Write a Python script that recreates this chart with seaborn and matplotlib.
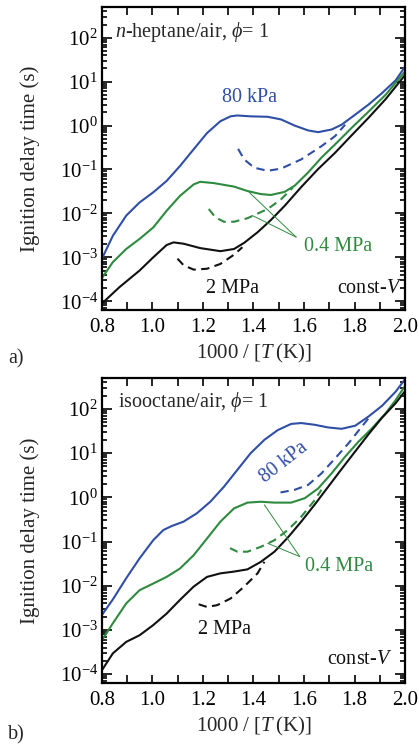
import numpy as np
import pandas as pd
import matplotlib
matplotlib.use("Agg")
import matplotlib.pyplot as plt
import seaborn as sns
from matplotlib.ticker import LogLocator, FixedLocator, NullFormatter, LogFormatterSciNotation

# ---------------- data (log10 of ignition delay time in s) ----------------
# panel a) n-heptane/air
a_blue_x = [0.800, 0.843, 0.896, 0.949, 1.003, 1.056, 1.109, 1.163, 1.216, 1.269, 1.309, 1.336, 1.389, 1.456,
            1.509, 1.563, 1.616, 1.656, 1.709, 1.749, 1.803, 1.856, 1.909, 1.963, 2.000]
a_blue_y = [-3.03, -2.51, -2.05, -1.75, -1.52, -1.26, -0.92, -0.54, -0.17, 0.10, 0.21, 0.23, 0.21, 0.20,
            0.14, 0.00, -0.11, -0.15, -0.09, 0.02, 0.25, 0.48, 0.74, 1.03, 1.34]
a_blue_dx = [1.339, 1.363, 1.403, 1.456, 1.509, 1.589, 1.669, 1.723, 1.763]
a_blue_dy = [-0.53, -0.77, -0.96, -1.03, -0.98, -0.77, -0.47, -0.24, 0.02]

a_green_x = [0.800, 0.843, 0.896, 0.949, 1.003, 1.056, 1.109, 1.163, 1.189, 1.243, 1.323, 1.376, 1.429, 1.469,
             1.523, 1.563, 1.616, 1.669, 1.723, 1.789, 1.856, 1.923, 2.000]
a_green_y = [-3.47, -3.11, -2.81, -2.58, -2.32, -1.94, -1.60, -1.34, -1.28, -1.31, -1.39, -1.49, -1.56, -1.58,
             -1.51, -1.37, -1.07, -0.73, -0.43, -0.05, 0.32, 0.70, 1.23]
a_green_dx = [1.223, 1.249, 1.283, 1.323, 1.376, 1.456, 1.509, 1.556]
a_green_dy = [-1.90, -2.09, -2.19, -2.19, -2.11, -1.90, -1.68, -1.41]

a_black_x = [0.800, 0.869, 0.949, 1.003, 1.056, 1.083, 1.123, 1.189, 1.269, 1.323, 1.363, 1.416, 1.469, 1.523,
             1.589, 1.656, 1.723, 1.789, 1.856, 1.923, 2.000]
a_black_y = [-4.05, -3.68, -3.30, -3.00, -2.72, -2.66, -2.69, -2.79, -2.86, -2.81, -2.67, -2.43, -2.15, -1.83,
             -1.40, -0.99, -0.62, -0.22, 0.18, 0.60, 1.15]
a_black_dx = [1.099, 1.123, 1.163, 1.216, 1.269, 1.323, 1.356]
a_black_dy = [-3.03, -3.18, -3.28, -3.26, -3.15, -2.94, -2.77]

# panel b) isooctane/air
b_blue_x = [0.800, 0.843, 0.896, 0.949, 1.003, 1.043, 1.076, 1.123, 1.176, 1.229, 1.283, 1.336, 1.389, 1.443,
            1.496, 1.549, 1.589, 1.643, 1.696, 1.749, 1.803, 1.856, 1.909, 1.963, 2.000]
b_blue_y = [-2.66, -2.31, -1.83, -1.38, -0.97, -0.74, -0.65, -0.55, -0.36, -0.10, 0.24, 0.62, 1.00, 1.30,
            1.52, 1.66, 1.68, 1.64, 1.58, 1.55, 1.62, 1.83, 2.07, 2.39, 2.67]
b_blue_dx = [1.507, 1.563, 1.616, 1.669, 1.723, 1.776, 1.829, 1.863]
b_blue_dy = [0.11, 0.17, 0.28, 0.54, 0.88, 1.22, 1.60, 1.84]

b_green_x = [0.800, 0.843, 0.896, 0.949, 1.003, 1.056, 1.109, 1.163, 1.216, 1.269, 1.323, 1.376, 1.429, 1.483,
             1.549, 1.603, 1.656, 1.709, 1.763, 1.816, 1.869, 1.923, 1.963, 2.000]
b_green_y = [-3.23, -2.85, -2.40, -2.10, -1.95, -1.80, -1.61, -1.31, -0.93, -0.55, -0.25, -0.12, -0.10, -0.12,
             -0.12, -0.02, 0.20, 0.54, 0.92, 1.26, 1.56, 1.90, 2.20, 2.52]
b_green_dx = [1.307, 1.336, 1.376, 1.429, 1.483, 1.536, 1.589, 1.643, 1.669]
b_green_dy = [-1.15, -1.23, -1.23, -1.12, -0.97, -0.74, -0.44, -0.06, 0.17]

b_black_x = [0.800, 0.843, 0.896, 0.949, 1.003, 1.056, 1.109, 1.163, 1.216, 1.269, 1.323, 1.376, 1.429, 1.483,
             1.536, 1.589, 1.643, 1.696, 1.749, 1.803, 1.856, 1.909, 1.963, 2.000]
b_black_y = [-3.91, -3.53, -3.27, -3.12, -2.89, -2.63, -2.32, -2.02, -1.80, -1.72, -1.68, -1.63, -1.46, -1.23,
             -0.91, -0.55, -0.16, 0.24, 0.64, 1.04, 1.43, 1.80, 2.13, 2.40]
b_black_dx = [1.183, 1.216, 1.256, 1.309, 1.363, 1.416, 1.443]
b_black_dy = [-2.42, -2.48, -2.44, -2.29, -2.02, -1.72, -1.46]

x_ticks = [0.8, 1.0, 1.2, 1.4, 1.6, 1.8, 2.0]
x_tick_labels = ["0.8", "1.0", "1.2", "1.4", "1.6", "1.8", "2.0"]

BLUE = "#2f4ea6"
GREEN = "#2e8a3e"
BLACK = "#111111"

# ---------------- style ----------------
sns.set_style("ticks")
plt.rcParams["font.family"] = ["Liberation Serif", "DejaVu Serif"]
plt.rcParams["mathtext.fontset"] = "custom"
plt.rcParams["mathtext.rm"] = "Liberation Serif"
plt.rcParams["mathtext.it"] = "Liberation Serif:italic"
plt.rcParams["mathtext.bf"] = "Liberation Serif:bold"

fig = plt.figure(figsize=(4.19, 7.44), dpi=100)
ax_a = fig.add_axes([0.2434, 0.5833, 0.7232, 0.4073])
ax_b = fig.add_axes([0.2434, 0.0820, 0.7232, 0.4100])

dash = (0, (4.0, 2.6))


def draw(ax, series):
    for xs, ys, color, ls in series:
        df = pd.DataFrame({"x": xs, "tau": np.power(10.0, ys)})
        sns.lineplot(data=df, x="x", y="tau", ax=ax, color=color, lw=1.5, linestyle=ls,
                     sort=False, estimator=None)


draw(ax_a, [
    (a_blue_x, a_blue_y, BLUE, "-"), (a_blue_dx, a_blue_dy, BLUE, dash),
    (a_green_x, a_green_y, GREEN, "-"), (a_green_dx, a_green_dy, GREEN, dash),
    (a_black_x, a_black_y, BLACK, "-"), (a_black_dx, a_black_dy, BLACK, dash),
])
draw(ax_b, [
    (b_blue_x, b_blue_y, BLUE, "-"), (b_blue_dx, b_blue_dy, BLUE, dash),
    (b_green_x, b_green_y, GREEN, "-"), (b_green_dx, b_green_dy, GREEN, dash),
    (b_black_x, b_black_y, BLACK, "-"), (b_black_dx, b_black_dy, BLACK, dash),
])

for ax in (ax_a, ax_b):
    ax.set_yscale("log")
    ax.set_xlim(0.8, 2.0)
    ax.set_ylim(10 ** -4.2, 10 ** 2.7)
    ax.yaxis.set_major_locator(FixedLocator([1e-4, 1e-3, 1e-2, 1e-1, 1e0, 1e1, 1e2]))
    ax.yaxis.set_major_formatter(LogFormatterSciNotation())
    ax.yaxis.set_minor_locator(LogLocator(base=10, subs=np.arange(2, 10), numticks=20))
    ax.yaxis.set_minor_formatter(NullFormatter())
    ax.set_xticks(x_ticks)
    ax.set_xticklabels(x_tick_labels)
    ax.set_xticks(np.arange(0.9, 2.0, 0.2), minor=True)
    ax.tick_params(axis="both", which="both", direction="in", top=True, right=True,
                   width=1.2, labelsize=15, colors="black")
    ax.tick_params(axis="x", which="both", length=6, pad=6)
    ax.tick_params(axis="y", which="major", length=7, pad=3)
    ax.tick_params(axis="y", which="minor", length=3.5)
    for s in ax.spines.values():
        s.set_linewidth(1.6)
        s.set_color("black")
    ax.set_xlabel("1000 / [$T\\,$(K)]", fontsize=15)
    ax.xaxis.set_label_coords(0.5, -0.105)
    ax.set_ylabel("Ignition delay time (s)", fontsize=15)
    ax.yaxis.set_label_coords(-0.205, 0.5)

fs = 14.5
# panel a annotations
ax_a.text(0.85, 10 ** 2.14, "$n$-heptane/air, $\\phi$= 1", fontsize=fs, va="center", ha="left")
ax_a.text(1.386, 10 ** 0.64, "80 kPa", color=BLUE, fontsize=fs, va="center", ha="center")
ax_a.text(1.60, 10 ** -2.75, "0.4 MPa", color=GREEN, fontsize=fs, va="center", ha="left")
ax_a.text(1.315, 10 ** -3.72, "2 MPa", color=BLACK, fontsize=fs, va="center", ha="center")
ax_a.text(1.99, 10 ** -3.70, "const-$V$", color=BLACK, fontsize=fs, va="center", ha="right")
for tx, ty in ((1.383, -1.52), (1.396, -2.05)):
    ax_a.plot([1.569, tx], [10 ** -2.54, 10 ** ty], color=GREEN, lw=0.7)

# panel b annotations
ax_b.text(1.52, 10 ** 0.78, "80 kPa", color=BLUE, fontsize=fs, va="center", ha="center", rotation=38)
ax_b.text(0.863, 10 ** 2.16, "isooctane/air, $\\phi$= 1", fontsize=fs, va="center", ha="left")
ax_b.text(1.604, 10 ** -1.57, "0.4 MPa", color=GREEN, fontsize=fs, va="center", ha="left")
ax_b.text(1.287, 10 ** -3.0, "2 MPa", color=BLACK, fontsize=fs, va="center", ha="center")
ax_b.text(1.95, 10 ** -3.66, "const-$V$", color=BLACK, fontsize=fs, va="center", ha="right")
for tx, ty in ((1.443, -0.17), (1.456, -1.04)):
    ax_b.plot([1.583, tx], [10 ** -1.34, 10 ** ty], color=GREEN, lw=0.7)

fig.text(8 / 419, 1 - 359 / 744, "a)", fontsize=fs, va="center", ha="left")
fig.text(8 / 419, 1 - 735 / 744, "b)", fontsize=fs, va="center", ha="left")

fig.savefig("out.png", dpi=100)
